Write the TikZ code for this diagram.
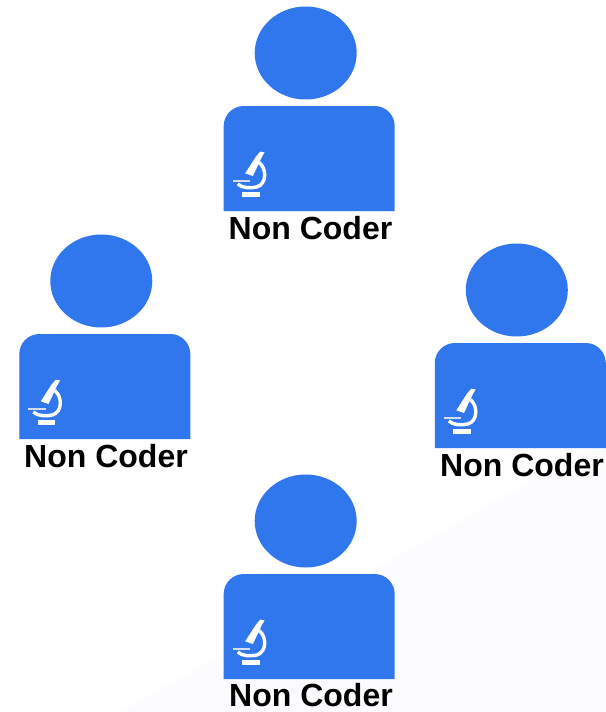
\documentclass[tikz,border=0pt]{standalone}
\usepackage{fontspec}
\setmainfont{Liberation Sans}
\definecolor{personblue}{HTML}{3077EE}
\definecolor{bgtint}{HTML}{FCFCFF}
\definecolor{stagegrey}{HTML}{D5DCEA}
\tikzset{
  x=1pt,y=-1pt,
  personpart/.style={fill=personblue,draw=none},
  scopeline/.style={draw=white,line cap=butt},
  persontext/.style={font=\bfseries\fontsize{32}{33}\selectfont,text=black,inner sep=0pt,anchor=center},
  person/.pic={
    \path[personpart] (82,-53) ellipse [x radius=51,y radius=46.5];
    \path[personpart] (0,105) -- (0,20) .. controls (0,9) and (9,0) .. (20,0) -- (151,0)
        .. controls (162,0) and (171,9) .. (171,20) -- (171,105) -- cycle;
    \fill[white] (21.5,67.3) -- (29.2,70) -- (37.5,52.3) -- (40.8,46.3) -- (36.5,45.7) -- (32.2,50.7) -- cycle;
    \draw[scopeline,line width=3.4pt] (35.5,56.5) .. controls (39.5,60) and (41,64.5) .. (41,69)
        .. controls (41,75) and (38,79.5) .. (33,81) .. controls (27,82.5) and (18,82) .. (14,78);
    \draw[stagegrey,line width=2pt] (8.8,74.7) -- (26.5,74.7);
    \fill[white] (18.2,85.8) rectangle (35.8,91.3);
  }
}
\begin{document}
\begin{tikzpicture}
\useasboundingbox (0,0) rectangle (605,712);
\fill[white] (0,0) rectangle (605,712);
\fill[bgtint] (605,440) -- (605,712) -- (120,712) -- cycle;
\pic at (223.7,106) {person};
\pic at (19.3,334) {person};
\pic at (434.8,343) {person};
\pic at (223.7,574) {person};
\node[persontext] (top) at (310.5,228.5) {Non Coder};
\node[persontext] (left) at (106,456.5) {Non Coder};
\node[persontext] (right) at (522,465.5) {Non Coder};
\node[persontext] (bottom) at (311,695.5) {Non Coder};
\end{tikzpicture}
\end{document}
